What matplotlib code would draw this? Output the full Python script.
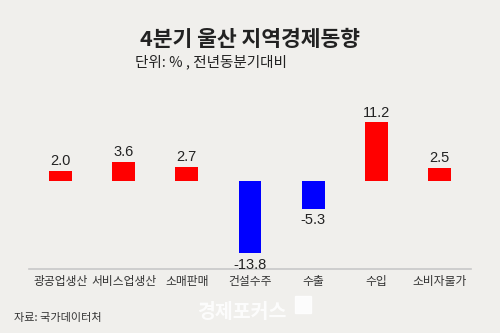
import numpy as np
import matplotlib.pyplot as plt
from matplotlib.patches import Rectangle

plt.rcParams['font.family'] = ['Noto Sans CJK KR', 'DejaVu Sans']

# data
categories = ['광공업생산', '서비스업생산', '소매판매', '건설수주', '수출', '수입', '소비자물가']
values = [2.0, 3.6, 2.7, -13.8, -5.3, 11.2, 2.5]
value_labels = ['2.0', '3.6', '2.7', '-13.8', '-5.3', '11.2', '2.5']

bg = '#f0efec'
col_up = '#ff0000'
col_down = '#0000ff'

fig = plt.figure(figsize=(5, 3.33), dpi=100)
fig.patch.set_facecolor(bg)
ax = fig.add_axes([0.058, 0.192, 0.884, 0.5075])
ax.set_facecolor(bg)

x = np.arange(len(categories))
colors = [col_up if v >= 0 else col_down for v in values]
ax.bar(x, values, width=0.36, color=colors)

for xi, v, lab in zip(x, values, value_labels):
    if v >= 0:
        ax.annotate(lab, (xi, v), xytext=(0, 2), textcoords='offset points',
                    ha='center', va='bottom', fontsize=10.5, color='#222222',
                    family='Liberation Sans')
    else:
        ax.annotate(lab, (xi, v), xytext=(0, -3), textcoords='offset points',
                    ha='center', va='top', fontsize=10.5, color='#222222',
                    family='Liberation Sans')

ax.set_xlim(-0.5, 6.5)
ax.set_ylim(-16.8, 15.45)
ax.set_xticks(x)
ax.set_xticklabels(categories, fontsize=8.5, color='#333333')
ax.tick_params(axis='x', length=0, pad=4)
ax.set_yticks([])
for s in ['top', 'left', 'right']:
    ax.spines[s].set_visible(False)
ax.spines['bottom'].set_color('#c8c8c8')
ax.spines['bottom'].set_linewidth(1.2)

# titles
fig.text(0.5, 1 - 40 / 333, '4분기 울산 지역경제동향', ha='center', va='center',
         fontsize=15.5, fontweight='bold', color='#222222')
fig.text(135 / 500, 1 - 62 / 333, '단위: % , 전년동분기대비', ha='left', va='center',
         fontsize=10.5, color='#222222')
fig.text(14 / 500, 1 - 318 / 333, '자료: 국가데이터처', ha='left', va='center',
         fontsize=8, color='#333333')

# watermark
fig.text(242 / 500, 1 - 313 / 333, '경제포커스', ha='center', va='center',
         fontsize=14, fontweight='bold', color='white', alpha=0.85)
fig.patches.append(Rectangle((295 / 500, 1 - 313 / 333), 16 / 500, 17 / 333,
                             transform=fig.transFigure, color='white', alpha=0.85))

fig.savefig('out.png', dpi=100, facecolor=bg)
